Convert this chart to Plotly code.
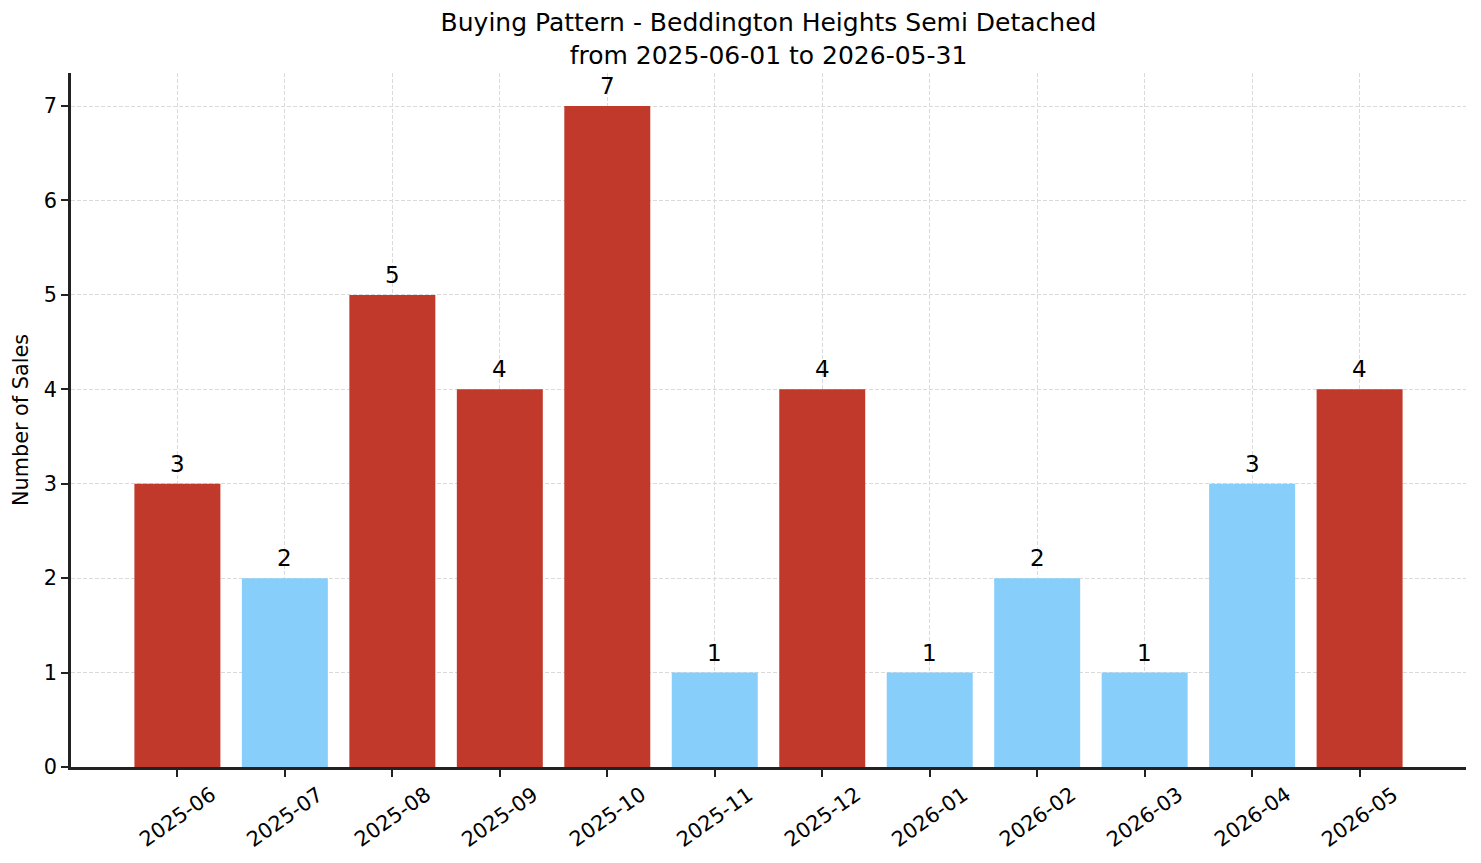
import plotly.graph_objects as go

months = ["2025-06", "2025-07", "2025-08", "2025-09", "2025-10", "2025-11",
          "2025-12", "2026-01", "2026-02", "2026-03", "2026-04", "2026-05"]
sales = [3, 2, 5, 4, 7, 1, 4, 1, 2, 1, 3, 4]
bar_colors = ["#c0392b", "#87cefa", "#c0392b", "#c0392b", "#c0392b", "#87cefa",
              "#c0392b", "#87cefa", "#87cefa", "#87cefa", "#87cefa", "#c0392b"]

FONT = "DejaVu Sans"
xs = list(range(len(months)))

fig = go.Figure()
fig.add_trace(go.Bar(x=xs, y=sales, width=0.8, marker=dict(color=bar_colors, line=dict(width=0)),
                     hoverinfo="skip"))

annotations = []
for i, v in zip(xs, sales):
    annotations.append(dict(x=i, y=v, xref="x", yref="y", text=str(v), showarrow=False,
                            yanchor="bottom", yshift=5, font=dict(family=FONT, size=23, color="black")))
for i, m in zip(xs, months):
    annotations.append(dict(x=i, y=0, xref="x", yref="paper", text=m, showarrow=False,
                            textangle=-35, xanchor="center", yanchor="top", yshift=-12,
                            font=dict(family=FONT, size=20.8, color="black")))

fig.update_layout(
    width=1481, height=863,
    margin=dict(l=71, r=15, t=73, b=96),
    paper_bgcolor="white", plot_bgcolor="white",
    showlegend=False,
    title=dict(text="Buying Pattern - Beddington Heights Semi Detached<br>from 2025-06-01 to 2026-05-31",
               x=0.5 * (71 + 1466) / 1481, xanchor="center", xref="container",
               y=1 - 31 / 863, yanchor="middle", yref="container",
               font=dict(family=FONT, size=25, color="black")),
    annotations=annotations,
    font=dict(family=FONT, color="black"),
)
fig.update_xaxes(range=[-0.99, 11.99], tickvals=xs, ticktext=[""] * len(xs),
                 showgrid=True, gridcolor="#dadada", griddash="4px,2px", gridwidth=1,
                 showline=True, linecolor="#222", linewidth=2.6, ticks="outside", ticklen=7,
                 tickcolor="#222", tickwidth=2, zeroline=False, layer="above traces")
fig.update_yaxes(range=[0, 7.35], tickvals=list(range(8)),
                 showgrid=True, gridcolor="#dadada", griddash="4px,2px", gridwidth=1,
                 showline=True, linecolor="#222", linewidth=2.6, ticks="outside", ticklen=7,
                 tickcolor="#222", tickwidth=2, zeroline=False, layer="above traces",
                 tickfont=dict(family=FONT, size=20.8, color="black"),
                 title=dict(text="Number of Sales", font=dict(family=FONT, size=20.8, color="black"), standoff=10))

fig.write_html("out.html")
